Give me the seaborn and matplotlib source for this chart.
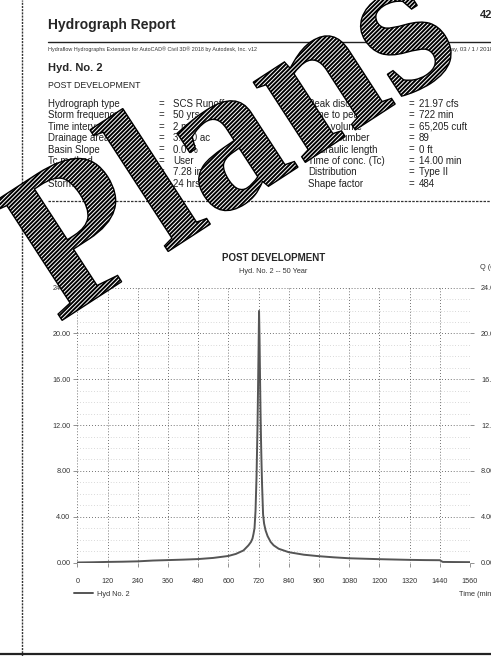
import numpy as np
import pandas as pd
import matplotlib
matplotlib.use('Agg')
import matplotlib.pyplot as plt
import matplotlib.patheffects as pe
from matplotlib.lines import Line2D
from matplotlib.ticker import MultipleLocator, FormatStrFormatter
import seaborn as sns

# hydrograph (time in min, flow in cfs)
time_min = [0, 60, 120, 180, 240, 300, 360, 420, 480, 540, 600, 630, 660, 680,
            690, 696, 700, 704, 708, 712, 716, 720, 722, 724, 726, 728, 730,
            732, 734, 738, 742, 748, 756, 768, 780, 800, 840, 900, 960, 1020,
            1080, 1140, 1200, 1260, 1320, 1380, 1440, 1446, 1452, 1500, 1560]
flow_cfs = [0.0, 0.02, 0.05, 0.07, 0.10, 0.17, 0.21, 0.25, 0.30, 0.40, 0.57,
            0.75, 1.05, 1.5, 1.8, 2.1, 2.5, 3.0, 4.5, 7.5, 12.0, 18.5, 21.97,
            19.5, 16.0, 13.0, 10.5, 8.5, 6.8, 4.2, 3.4, 2.8, 2.3, 1.8, 1.5,
            1.2, 0.9, 0.68, 0.55, 0.45, 0.37, 0.33, 0.29, 0.26, 0.23, 0.21,
            0.20, 0.12, 0.05, 0.04, 0.03]

left_labels = ['Hydrograph type', 'Storm frequency', 'Time interval', 'Drainage area',
               'Basin Slope', 'Tc method', 'Total precip.', 'Storm duration']
left_values = ['SCS Runoff', '50 yrs', '2 min', '3.080 ac', '0.0 %', 'User',
               '7.28 in', '24 hrs']
right_labels = ['Peak discharge', 'Time to peak', 'Hyd. volume', 'Curve number',
                'Hydraulic length', 'Time of conc. (Tc)', 'Distribution', 'Shape factor']
right_values = ['21.97 cfs', '722 min', '65,205 cuft', '89', '0 ft', '14.00 min',
                'Type II', '484']

df = pd.DataFrame({'Time (min)': time_min, 'Q (cfs)': flow_cfs})

sns.set_style('white')
plt.rcParams['font.family'] = ['Liberation Sans', 'DejaVu Sans']
plt.rcParams['hatch.linewidth'] = 1.4

W, H = 491, 656
fig = plt.figure(figsize=(W / 100, H / 100), dpi=100)


def fx(px):
    return px / W


def fy(py):
    return 1 - py / H


# page header
fig.text(fx(48), fy(25), 'Hydrograph Report', fontsize=10, fontweight='bold', va='center')
fig.text(fx(480), fy(15), '42', fontsize=8, fontweight='bold', va='center')
fig.add_artist(Line2D([fx(48), 1], [fy(41.5), fy(41.5)], color='#222', lw=1.0))
fig.text(fx(48), fy(49), 'Hydraflow Hydrographs Extension for AutoCAD\u00ae Civil 3D\u00ae 2018 by Autodesk, Inc. v12',
         fontsize=3.9, va='center', color='#333')
fig.text(fx(432), fy(49), 'Thursday, 03 / 1 / 2018', fontsize=4.3, va='center', color='#333')
fig.text(fx(48), fy(68), 'Hyd. No. 2', fontsize=8, fontweight='bold', va='center')
fig.text(fx(48), fy(85), 'POST DEVELOPMENT', fontsize=6.3, va='center', color='#222')

for i in range(len(left_labels)):
    yy = fy(104 + i * 11.4)
    fig.text(fx(48), yy, left_labels[i], fontsize=7, va='center', color='#222')
    fig.text(fx(159), yy, '=', fontsize=7, va='center', color='#222')
    fig.text(fx(173), yy, left_values[i], fontsize=7, va='center', color='#222')
    fig.text(fx(308), yy, right_labels[i], fontsize=7, va='center', color='#222')
    fig.text(fx(409), yy, '=', fontsize=7, va='center', color='#222')
    fig.text(fx(419), yy, right_values[i], fontsize=7, va='center', color='#222')

fig.add_artist(Line2D([fx(48), 1], [fy(201), fy(201)], color='#333', lw=0.9,
                      linestyle=(0, (2, 1))))

# page border
fig.add_artist(Line2D([fx(22), fx(22)], [0, 1], color='#333', lw=1.0, linestyle=(0, (1.5, 0.8))))
fig.add_artist(Line2D([0, 1], [fy(654), fy(654)], color='#222', lw=1.6))

# chart
ax = fig.add_axes([fx(77.3), fy(562.5), fx(470) - fx(77.3), fy(287.7) - fy(562.5)])
sns.lineplot(data=df, x='Time (min)', y='Q (cfs)', ax=ax, color='#555', lw=1.4,
             label='Hyd No. 2')
ax.set_xlim(0, 1560)
ax.set_ylim(0, 24)
ax.xaxis.set_major_locator(MultipleLocator(120))
ax.yaxis.set_major_locator(MultipleLocator(4))
ax.yaxis.set_minor_locator(MultipleLocator(1))
ax.yaxis.set_major_formatter(FormatStrFormatter('%.2f'))
ax.grid(True, which='major', color='#444', lw=0.6, linestyle=(0, (1, 2.5)))
ax.grid(True, which='minor', axis='y', color='#b5b5b5', lw=0.5, linestyle=(0, (1, 3)))
for s in ax.spines.values():
    s.set_visible(False)
ax.tick_params(axis='both', which='major', length=3, width=0.5, color='#666',
               labelsize=5.2, labelcolor='#333', pad=2, left=True, bottom=True)
ax.tick_params(axis='x', pad=8)
ax.tick_params(which='minor', length=0)
ax.set_xlabel('')
ax.set_ylabel('')

ax2 = ax.twinx()
ax2.set_ylim(0, 24)
ax2.yaxis.set_major_locator(MultipleLocator(4))
ax2.yaxis.set_major_formatter(FormatStrFormatter('%.2f'))
for s in ax2.spines.values():
    s.set_visible(False)
ax2.tick_params(axis='y', length=3, width=0.5, color='#666', labelsize=5.2,
                labelcolor='#333', pad=5, right=True)

fig.text(fx(273.6), fy(258), 'POST DEVELOPMENT', fontsize=7, fontweight='bold', ha='center', va='center')
fig.text(fx(273.6), fy(272), 'Hyd. No. 2 -- 50 Year', fontsize=5.3, ha='center', va='center', color='#333')
fig.text(fx(48), fy(268), 'Q (cfs)', fontsize=5.3, va='center', color='#333')
fig.text(fx(480), fy(268), 'Q (cfs)', fontsize=5.3, va='center', color='#333')
fig.text(fx(459), fy(595), 'Time (min)', fontsize=5.3, va='center', color='#333')

leg = ax.legend(loc='center left', bbox_to_anchor=(fx(74), fy(594)),
                bbox_transform=fig.transFigure, frameon=False, fontsize=5.3,
                handlelength=2.6, handletextpad=0.5, borderpad=0, borderaxespad=0)
for t in leg.get_texts():
    t.set_color('#333')

# watermark
fig.text(fx(58), fy(323), 'Plans', fontsize=150, fontweight='bold',
         family=['Liberation Serif', 'DejaVu Serif'],
         rotation=33, rotation_mode='anchor', ha='left', va='baseline', zorder=10,
         path_effects=[pe.PathPatchEffect(facecolor='white', edgecolor='black',
                                          hatch='////////', lw=1.0)])

fig.savefig('out.png', dpi=100)
